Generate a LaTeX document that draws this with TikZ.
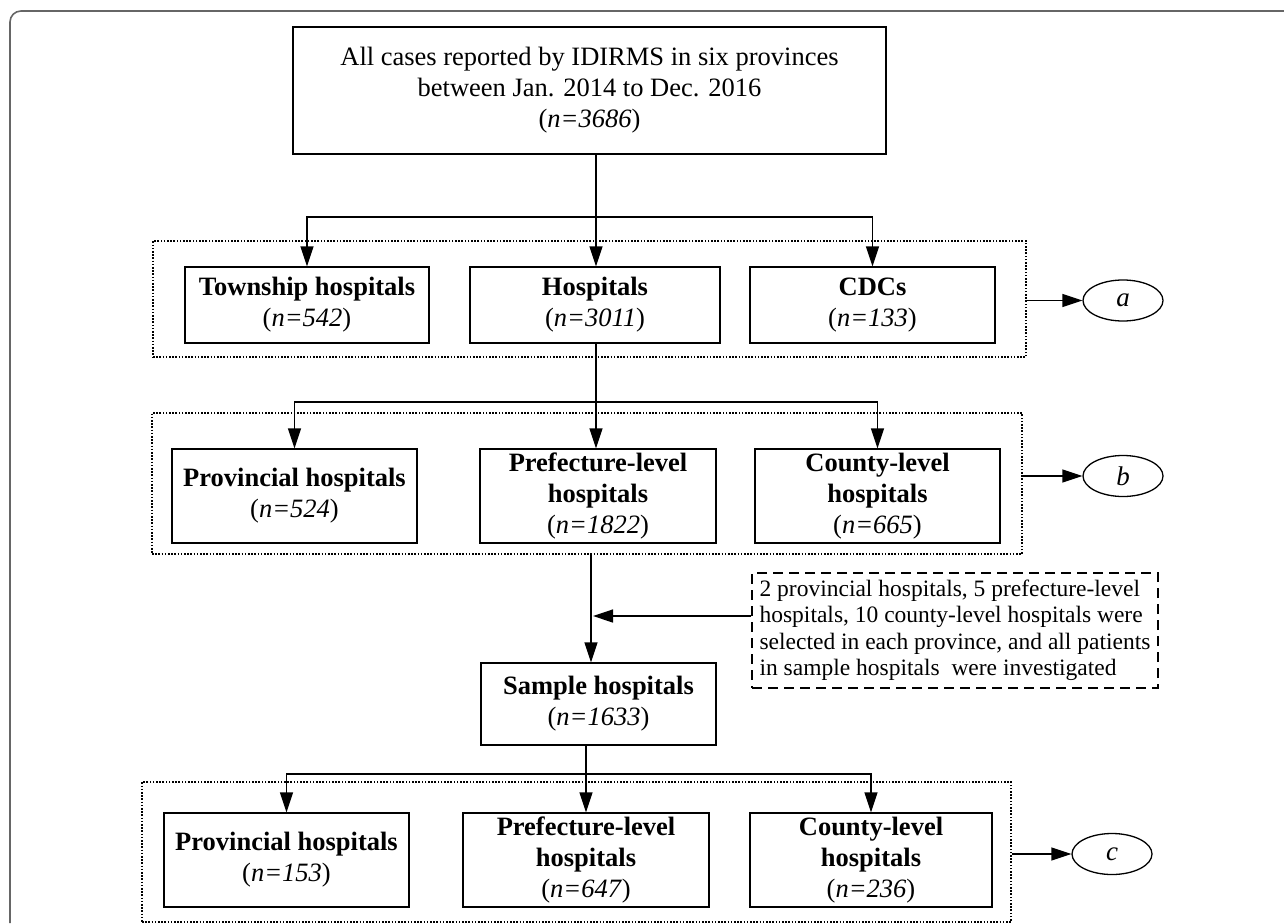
\documentclass[tikz,border=0pt]{standalone}
\usepackage{fontspec}
\setmainfont{Liberation Serif}
\usetikzlibrary{arrows.meta,shapes.geometric}

\begin{document}
\begin{tikzpicture}[
  x=1pt, y=-1pt,
  box/.style={draw, line width=1.3pt, align=center, inner sep=0pt, font=\fontsize{26.5}{31}\selectfont},
  grp/.style={draw, line width=1.1pt, dash pattern=on 1.6pt off 1.6pt, inner sep=0pt},
  notebox/.style={draw, line width=1.3pt, dash pattern=on 10pt off 6pt, align=left, inner sep=0pt, minimum width=406pt, minimum height=115pt, font=\fontsize{23.5}{26.5}\selectfont},
  tagell/.style={draw, ellipse, line width=1.3pt, minimum width=80pt, minimum height=41pt, inner sep=0pt, font=\fontsize{27}{30}\selectfont\itshape},
  arr/.style={-{Triangle[length=20pt,width=13pt]}, line width=1.3pt},
  outline/.style={draw=black!60, line width=1.6pt, rounded corners=11pt},
]

\def\HA{76pt}   % first row height
\def\HB{94pt}   % second and third row height

\useasboundingbox (0,0) rectangle (1284,923);
\draw[outline] (10,923) -- (10,11) -- (1284,11);

% Root
\node[box, minimum width=593pt, minimum height=127pt] (all) at (589.5,90.5)
  {All cases reported by IDIRMS in six provinces\\between Jan. 2014 to Dec. 2016\\(\textit{n=3686})};

% ── Reporting units ──
\node[grp, minimum width=873pt, minimum height=116pt] (ga) at (589.5,299) {};
\node[box, minimum width=244pt, minimum height=\HA] (town) at (307,305) {\textbf{Township hospitals}\\(\textit{n=542})};
\node[box, minimum width=250pt, minimum height=\HA] (hosp) at (595,305) {\textbf{Hospitals}\\(\textit{n=3011})};
\node[box, minimum width=245pt, minimum height=\HA] (cdc) at (872.5,305) {\textbf{CDCs}\\(\textit{n=133})};
\node[tagell] (ea) at (1123,300.5) {a};

% ── Hospital levels ──
\node[grp, minimum width=870pt, minimum height=141pt] (gb) at (587,483.5) {};
\node[box, minimum width=245pt, minimum height=\HB] (prov) at (294.5,496) {\textbf{Provincial hospitals}\\(\textit{n=524})};
\node[box, minimum width=236pt, minimum height=\HB] (pref) at (598,496) {\textbf{Prefecture-level}\\\textbf{hospitals}\\(\textit{n=1822})};
\node[box, minimum width=245pt, minimum height=\HB] (cnty) at (877.5,496) {\textbf{County-level}\\\textbf{hospitals}\\(\textit{n=665})};
\node[tagell] (eb) at (1123,476) {b};

% ── Sampling ──
\node[notebox] (nt) at (955,630.5)
  {2 provincial hospitals, 5 prefecture-level\\hospitals, 10 county-level hospitals were\\selected in each province, and all patients\\in sample hospitals\ \ were investigated};
\node[box, minimum width=235pt, minimum height=82pt] (samp) at (598.5,704) {\textbf{Sample hospitals}\\(\textit{n=1633})};

% ── Sample hospital levels ──
\node[grp, minimum width=869pt, minimum height=140pt] (gc) at (576.5,852) {};
\node[box, minimum width=245pt, minimum height=\HB] (prov3) at (286.5,860) {\textbf{Provincial hospitals}\\(\textit{n=153})};
\node[box, minimum width=246pt, minimum height=\HB] (pref3) at (586,860) {\textbf{Prefecture-level}\\\textbf{hospitals}\\(\textit{n=647})};
\node[box, minimum width=242pt, minimum height=\HB] (cnty3) at (871,860) {\textbf{County-level}\\\textbf{hospitals}\\(\textit{n=236})};
\node[tagell] (ec) at (1112,854) {c};

% ── Connectors ──
\coordinate (j1) at (596,217);
\coordinate (j2) at (596,402);
\coordinate (j0) at (591,616);
\coordinate (j3) at (586,774);

\draw[arr] (all.south -| j1) -- (hosp.north -| j1);
\draw[arr] (j1) -| (town.north);
\draw[arr] (j1) -| (cdc.north);

\draw[arr] (hosp.south -| j2) -- (pref.north -| j2);
\draw[arr] (j2) -| (prov.north);
\draw[arr] (j2) -| (cnty.north);

\draw[arr] (gb.south -| j0) -- (samp.north -| j0);
\draw[arr, shorten >=2pt] (j0 -| nt.west) -- (j0);

\draw[arr] (samp.south -| j3) -- (pref3.north -| j3);
\draw[arr] (j3) -| (prov3.north);
\draw[arr] (j3) -| (cnty3.north);

% Group labels
\foreach \g/\e in {ga/ea, gb/eb, gc/ec}
  \draw[arr] (\g.east |- \e) -- (\e);

\end{tikzpicture}
\end{document}
